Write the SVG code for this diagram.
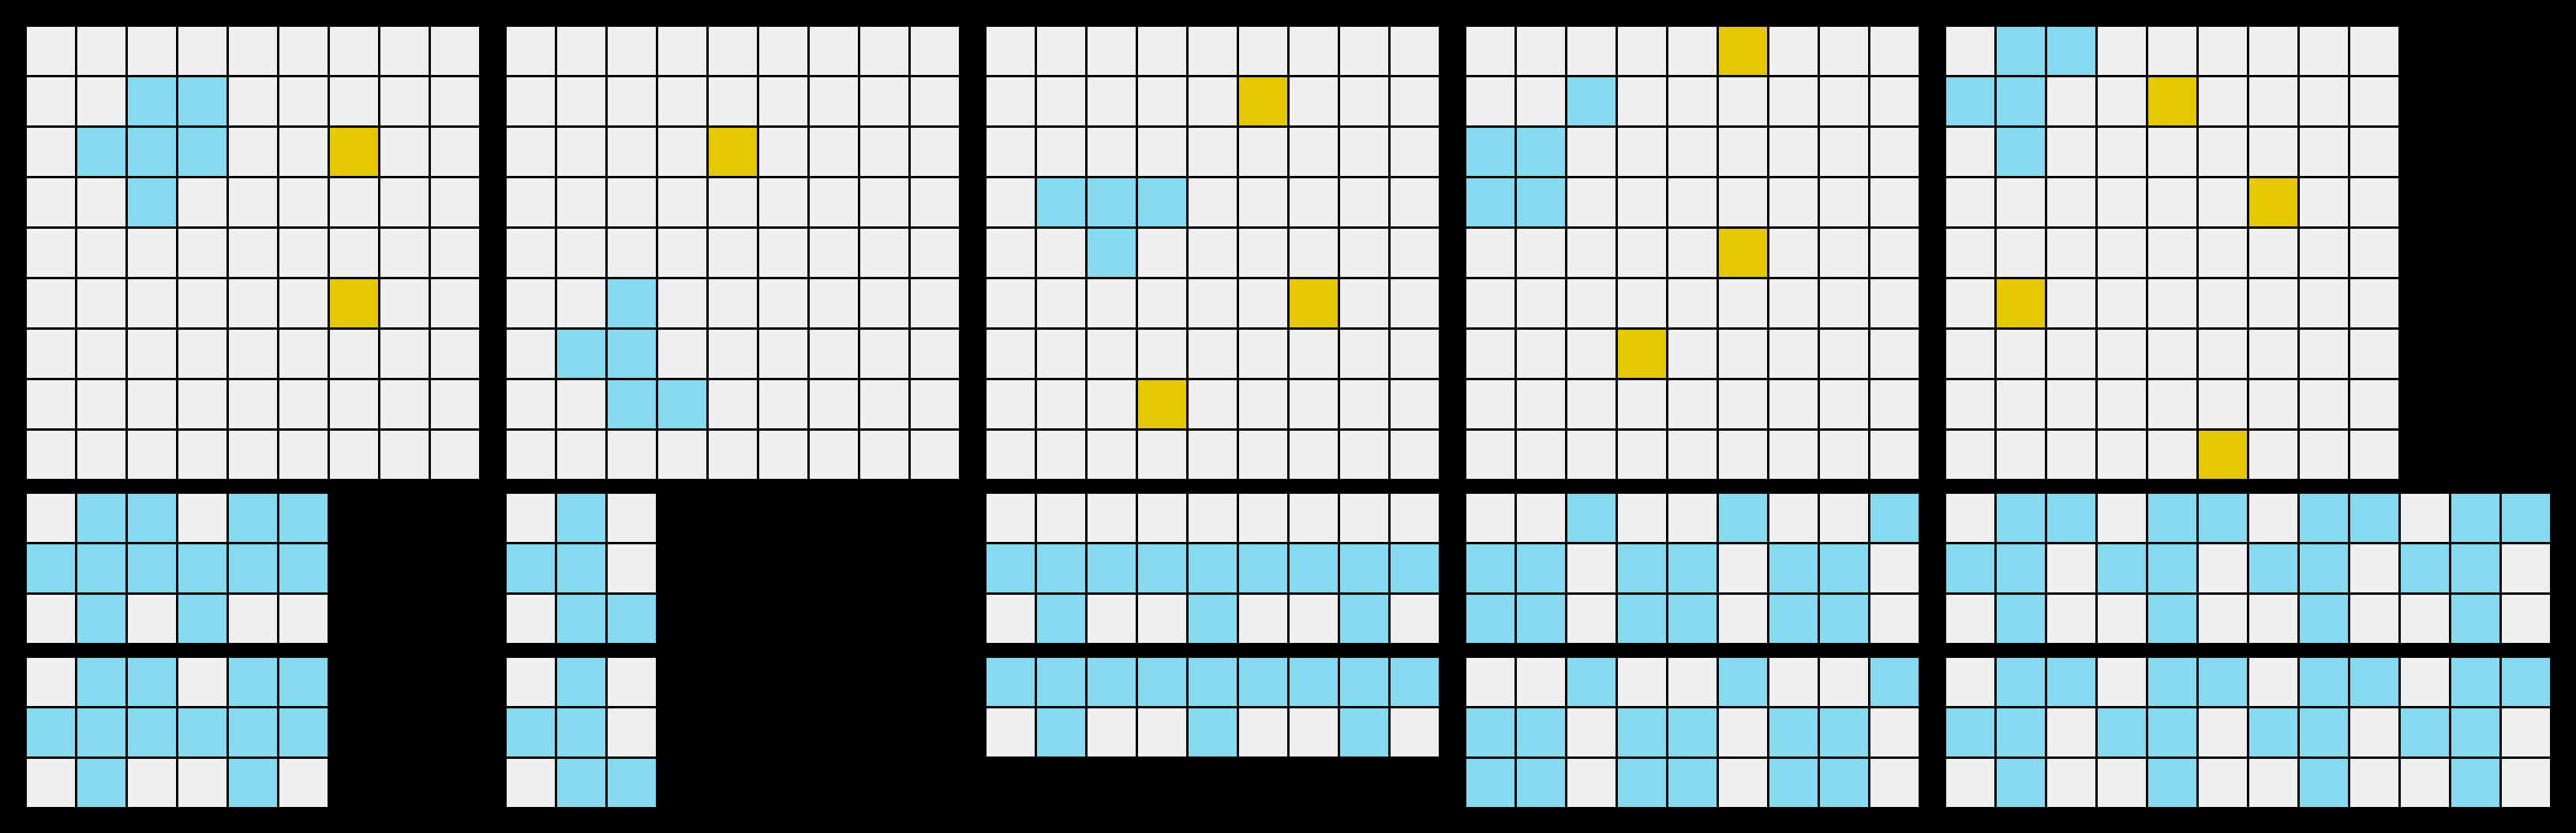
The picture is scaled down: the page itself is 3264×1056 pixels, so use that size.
<svg xmlns="http://www.w3.org/2000/svg" xmlns:xlink="http://www.w3.org/1999/xlink" width="3264" height="1056" viewBox="0 0 3264 1056">
<style>
.bg{fill:#000000}
.g{fill:#EFEFEF}
.b{fill:#88DAF1}
.y{fill:#E5C800}
</style>
<defs>
<pattern id="cells" patternUnits="userSpaceOnUse" x="0" y="0" width="64" height="64">
<rect class="g" x="2" y="2" width="61" height="61"/>
</pattern>
<rect id="B" class="b" x="2" y="2" width="61" height="61"/>
<rect id="Y" class="y" x="2" y="2" width="61" height="61"/>
</defs>
<rect class="bg" x="0" y="0" width="3264" height="1056"/>

<g id="input1" transform="translate(32,32)">
<rect width="576" height="576" fill="url(#cells)"/>
<use href="#B" x="128" y="64"/><use href="#B" x="192" y="64"/>
<use href="#B" x="64" y="128"/><use href="#B" x="128" y="128"/><use href="#B" x="192" y="128"/>
<use href="#B" x="128" y="192"/>
<use href="#Y" x="384" y="128"/><use href="#Y" x="384" y="320"/>
</g>

<g id="input2" transform="translate(640,32)">
<rect width="576" height="576" fill="url(#cells)"/>
<use href="#Y" x="256" y="128"/>
<use href="#B" x="128" y="320"/>
<use href="#B" x="64" y="384"/><use href="#B" x="128" y="384"/>
<use href="#B" x="128" y="448"/><use href="#B" x="192" y="448"/>
</g>

<g id="input3" transform="translate(1248,32)">
<rect width="576" height="576" fill="url(#cells)"/>
<use href="#Y" x="320" y="64"/><use href="#Y" x="384" y="320"/><use href="#Y" x="192" y="448"/>
<use href="#B" x="64" y="192"/><use href="#B" x="128" y="192"/><use href="#B" x="192" y="192"/>
<use href="#B" x="128" y="256"/>
</g>

<g id="input4" transform="translate(1856,32)">
<rect width="576" height="576" fill="url(#cells)"/>
<use href="#Y" x="320" y="0"/><use href="#Y" x="320" y="256"/><use href="#Y" x="192" y="384"/>
<use href="#B" x="128" y="64"/>
<use href="#B" x="0" y="128"/><use href="#B" x="64" y="128"/>
<use href="#B" x="0" y="192"/><use href="#B" x="64" y="192"/>
</g>

<g id="input5" transform="translate(2464,32)">
<rect width="576" height="576" fill="url(#cells)"/>
<use href="#B" x="64" y="0"/><use href="#B" x="128" y="0"/>
<use href="#B" x="0" y="64"/><use href="#B" x="64" y="64"/>
<use href="#B" x="64" y="128"/>
<use href="#Y" x="256" y="64"/><use href="#Y" x="384" y="192"/><use href="#Y" x="64" y="320"/><use href="#Y" x="320" y="512"/>
</g>

<g id="output1a" transform="translate(32,624)">
<rect width="384" height="192" fill="url(#cells)"/>
<use href="#B" x="64" y="0"/><use href="#B" x="128" y="0"/><use href="#B" x="256" y="0"/><use href="#B" x="320" y="0"/>
<use href="#B" x="0" y="64"/><use href="#B" x="64" y="64"/><use href="#B" x="128" y="64"/><use href="#B" x="192" y="64"/><use href="#B" x="256" y="64"/><use href="#B" x="320" y="64"/>
<use href="#B" x="64" y="128"/><use href="#B" x="192" y="128"/>
</g>

<g id="output1b" transform="translate(32,832)">
<rect width="384" height="192" fill="url(#cells)"/>
<use href="#B" x="64" y="0"/><use href="#B" x="128" y="0"/><use href="#B" x="256" y="0"/><use href="#B" x="320" y="0"/>
<use href="#B" x="0" y="64"/><use href="#B" x="64" y="64"/><use href="#B" x="128" y="64"/><use href="#B" x="192" y="64"/><use href="#B" x="256" y="64"/><use href="#B" x="320" y="64"/>
<use href="#B" x="64" y="128"/><use href="#B" x="256" y="128"/>
</g>

<g id="output2a" transform="translate(640,624)">
<rect width="192" height="192" fill="url(#cells)"/>
<use href="#B" x="64" y="0"/>
<use href="#B" x="0" y="64"/><use href="#B" x="64" y="64"/>
<use href="#B" x="64" y="128"/><use href="#B" x="128" y="128"/>
</g>

<g id="output2b" transform="translate(640,832)">
<rect width="192" height="192" fill="url(#cells)"/>
<use href="#B" x="64" y="0"/>
<use href="#B" x="0" y="64"/><use href="#B" x="64" y="64"/>
<use href="#B" x="64" y="128"/><use href="#B" x="128" y="128"/>
</g>

<g id="output3a" transform="translate(1248,624)">
<rect width="576" height="192" fill="url(#cells)"/>
<use href="#B" x="0" y="64"/><use href="#B" x="64" y="64"/><use href="#B" x="128" y="64"/><use href="#B" x="192" y="64"/><use href="#B" x="256" y="64"/><use href="#B" x="320" y="64"/><use href="#B" x="384" y="64"/><use href="#B" x="448" y="64"/><use href="#B" x="512" y="64"/>
<use href="#B" x="64" y="128"/><use href="#B" x="256" y="128"/><use href="#B" x="448" y="128"/>
</g>

<g id="output3b" transform="translate(1248,832)">
<rect width="576" height="128" fill="url(#cells)"/>
<use href="#B" x="0" y="0"/><use href="#B" x="64" y="0"/><use href="#B" x="128" y="0"/><use href="#B" x="192" y="0"/><use href="#B" x="256" y="0"/><use href="#B" x="320" y="0"/><use href="#B" x="384" y="0"/><use href="#B" x="448" y="0"/><use href="#B" x="512" y="0"/>
<use href="#B" x="64" y="64"/><use href="#B" x="256" y="64"/><use href="#B" x="448" y="64"/>
</g>

<g id="output4a" transform="translate(1856,624)">
<rect width="576" height="192" fill="url(#cells)"/>
<use href="#B" x="128" y="0"/><use href="#B" x="320" y="0"/><use href="#B" x="512" y="0"/>
<use href="#B" x="0" y="64"/><use href="#B" x="64" y="64"/><use href="#B" x="192" y="64"/><use href="#B" x="256" y="64"/><use href="#B" x="384" y="64"/><use href="#B" x="448" y="64"/>
<use href="#B" x="0" y="128"/><use href="#B" x="64" y="128"/><use href="#B" x="192" y="128"/><use href="#B" x="256" y="128"/><use href="#B" x="384" y="128"/><use href="#B" x="448" y="128"/>
</g>

<g id="output4b" transform="translate(1856,832)">
<rect width="576" height="192" fill="url(#cells)"/>
<use href="#B" x="128" y="0"/><use href="#B" x="320" y="0"/><use href="#B" x="512" y="0"/>
<use href="#B" x="0" y="64"/><use href="#B" x="64" y="64"/><use href="#B" x="192" y="64"/><use href="#B" x="256" y="64"/><use href="#B" x="384" y="64"/><use href="#B" x="448" y="64"/>
<use href="#B" x="0" y="128"/><use href="#B" x="64" y="128"/><use href="#B" x="192" y="128"/><use href="#B" x="256" y="128"/><use href="#B" x="384" y="128"/><use href="#B" x="448" y="128"/>
</g>

<g id="output5a" transform="translate(2464,624)">
<rect width="768" height="192" fill="url(#cells)"/>
<use href="#B" x="64" y="0"/><use href="#B" x="128" y="0"/><use href="#B" x="256" y="0"/><use href="#B" x="320" y="0"/><use href="#B" x="448" y="0"/><use href="#B" x="512" y="0"/><use href="#B" x="640" y="0"/><use href="#B" x="704" y="0"/>
<use href="#B" x="0" y="64"/><use href="#B" x="64" y="64"/><use href="#B" x="192" y="64"/><use href="#B" x="256" y="64"/><use href="#B" x="384" y="64"/><use href="#B" x="448" y="64"/><use href="#B" x="576" y="64"/><use href="#B" x="640" y="64"/>
<use href="#B" x="64" y="128"/><use href="#B" x="256" y="128"/><use href="#B" x="448" y="128"/><use href="#B" x="640" y="128"/>
</g>

<g id="output5b" transform="translate(2464,832)">
<rect width="768" height="192" fill="url(#cells)"/>
<use href="#B" x="64" y="0"/><use href="#B" x="128" y="0"/><use href="#B" x="256" y="0"/><use href="#B" x="320" y="0"/><use href="#B" x="448" y="0"/><use href="#B" x="512" y="0"/><use href="#B" x="640" y="0"/><use href="#B" x="704" y="0"/>
<use href="#B" x="0" y="64"/><use href="#B" x="64" y="64"/><use href="#B" x="192" y="64"/><use href="#B" x="256" y="64"/><use href="#B" x="384" y="64"/><use href="#B" x="448" y="64"/><use href="#B" x="576" y="64"/><use href="#B" x="640" y="64"/>
<use href="#B" x="64" y="128"/><use href="#B" x="256" y="128"/><use href="#B" x="448" y="128"/><use href="#B" x="640" y="128"/>
</g>

<g id="connectors"/>
</svg>
